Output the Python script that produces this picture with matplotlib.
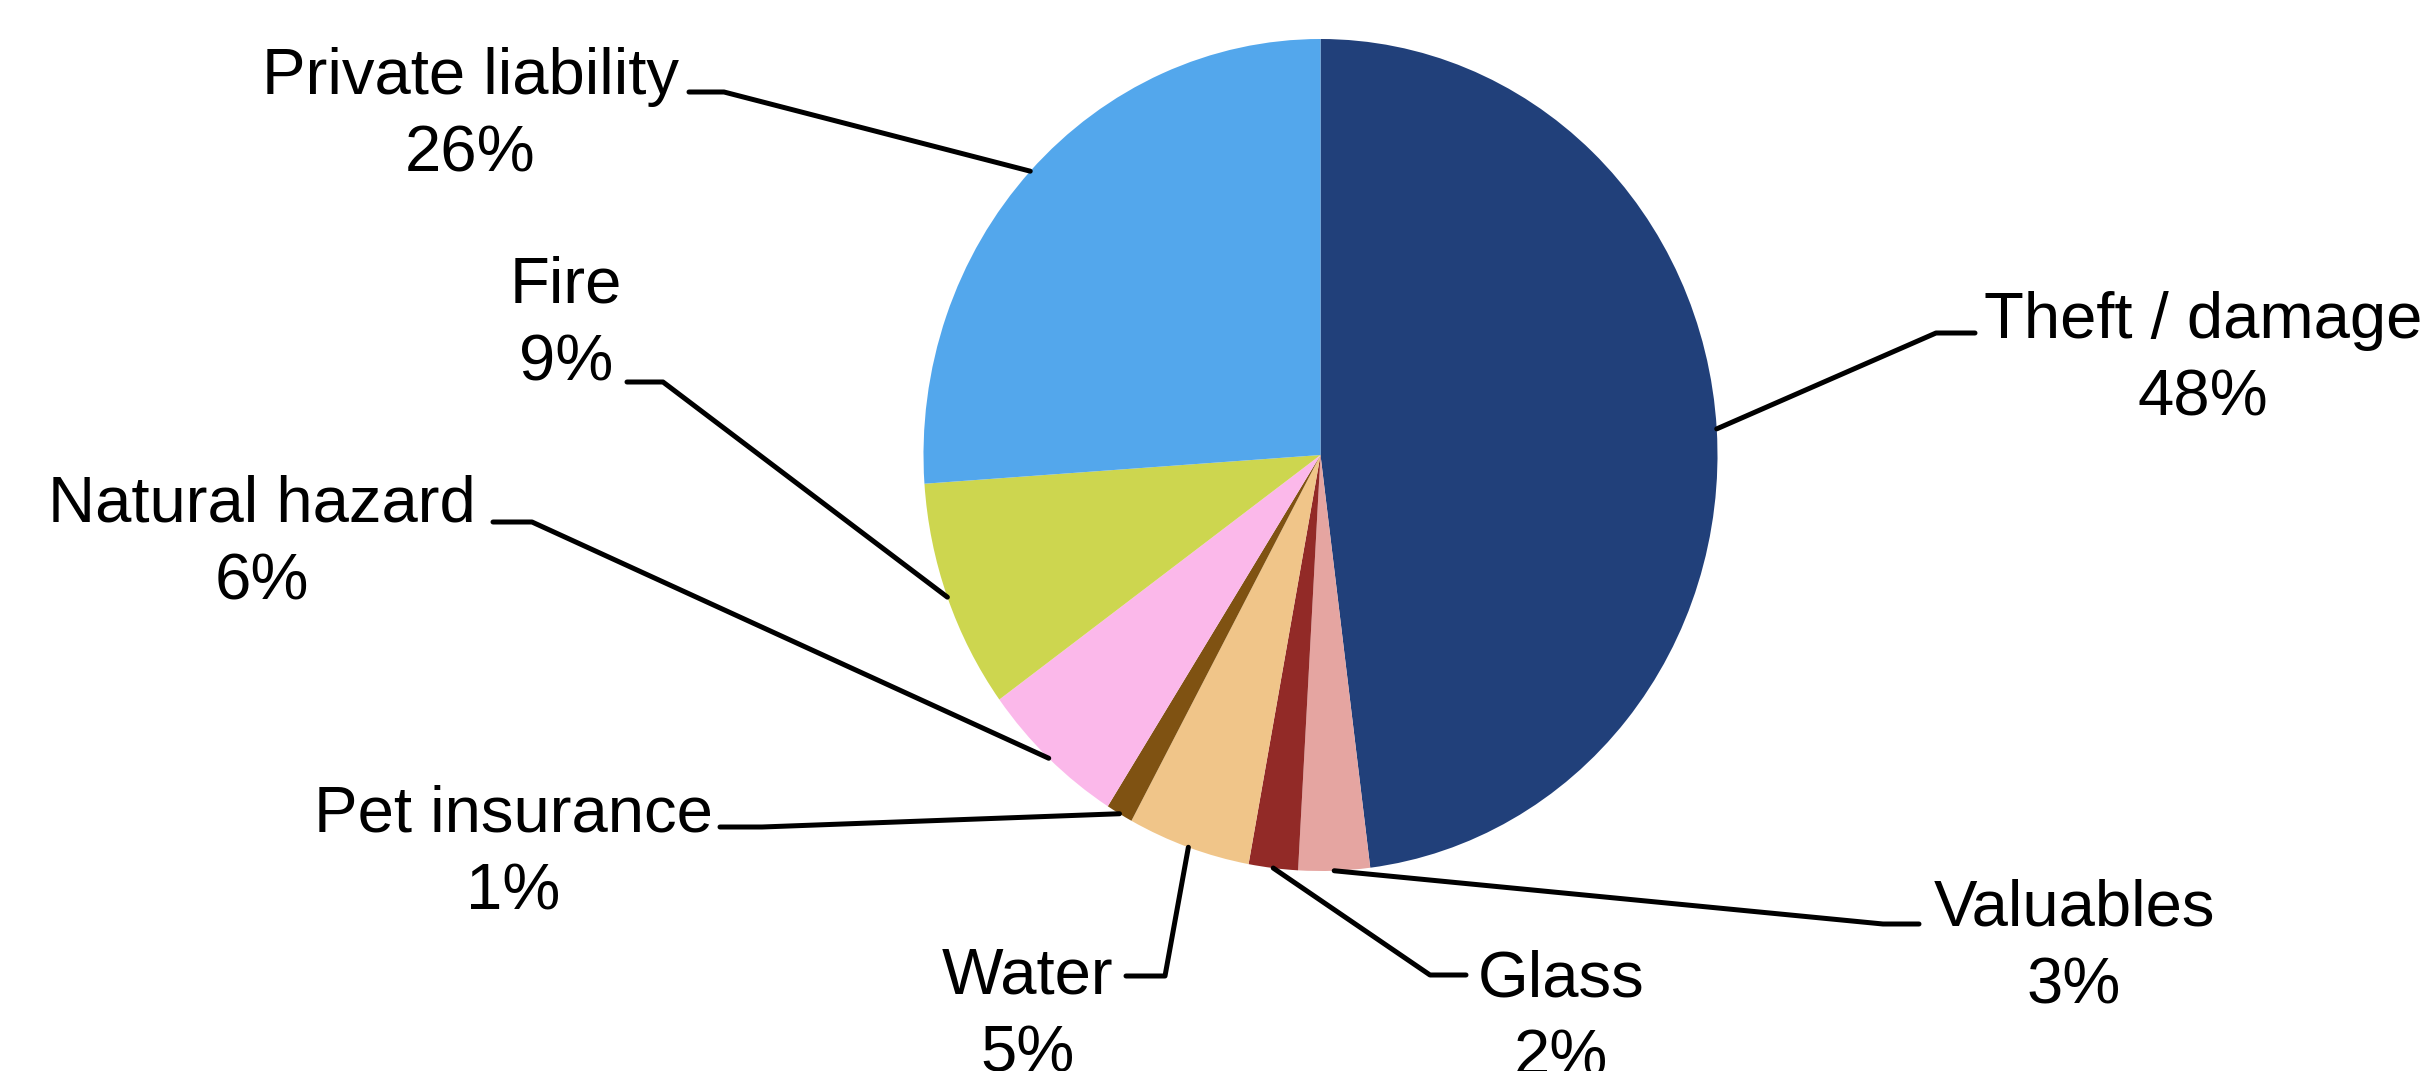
import numpy as np
import matplotlib.pyplot as plt

# household insurance claims by cause (share of total, %)
categories = ["Theft / damage", "Valuables", "Glass", "Water", "Pet insurance",
              "Natural hazard", "Fire", "Private liability"]
shares = [48.0, 2.9, 2.0, 5.0, 1.1, 6.0, 8.9, 26.1]
colors = ["#21407A", "#E5A5A1", "#922A27", "#F0C589", "#7F5212",
          "#FBB8EA", "#CDD64F", "#53A7EC"]

W, H = 2429, 1071
CX, CY, RX, RY = 1320.5, 455, 397, 416

# label layout in pixel coords: text centre x, first baseline y, elbow, tail end
label_pos = {
    "Theft / damage":    (2203, 338, (1936, 333), (1975, 333)),
    "Valuables":         (2074, 926, (1883, 924), (1919, 924)),
    "Glass":             (1561, 997, (1430, 975), (1466, 975)),
    "Water":             (1028, 994, (1165, 976), (1126, 976)),
    "Pet insurance":     (513, 832, (762, 827), (720, 827)),
    "Natural hazard":    (262, 522, (532, 522), (493, 522)),
    "Fire":              (566, 303, (663, 382), (627, 382)),
    "Private liability": (470, 94, (724, 92), (689, 92)),
}


def px(x, y):
    # pixel position -> data coords (pie is the unit circle)
    return (x - CX) / RX, (CY - y) / RY


plt.rcParams['font.family'] = ['Liberation Sans', 'DejaVu Sans']

fig = plt.figure(figsize=(W / 100, H / 100), dpi=100)
ax = fig.add_axes([0, 0, 1, 1])

wedges, _ = ax.pie(shares, colors=colors, startangle=90, counterclock=False,
                   wedgeprops=dict(linewidth=0))
ax.set_aspect('auto')
ax.set_xlim(-CX / RX, (W - CX) / RX)
ax.set_ylim((CY - H) / RY, CY / RY)
ax.axis('off')

for w, name, val in zip(wedges, categories, shares):
    cx, base, elbow, tail = label_pos[name]
    mid = np.deg2rad((w.theta1 + w.theta2) / 2)
    ex, ey = np.cos(mid), np.sin(mid)
    bx, by = px(*elbow)
    tx, ty = px(*tail)
    ax.plot([ex, bx, tx], [ey, by, ty], color='black', lw=3.6,
            solid_capstyle='round', solid_joinstyle='round', zorder=3)
    x1, y1 = px(cx, base)
    ax.text(x1, y1, name, ha='center', va='baseline', fontsize=47)
    x2, y2 = px(cx, base + 78)
    ax.text(x2, y2, f"{round(val)}%", ha='center', va='baseline', fontsize=47)

fig.savefig("out.png", dpi=100)
